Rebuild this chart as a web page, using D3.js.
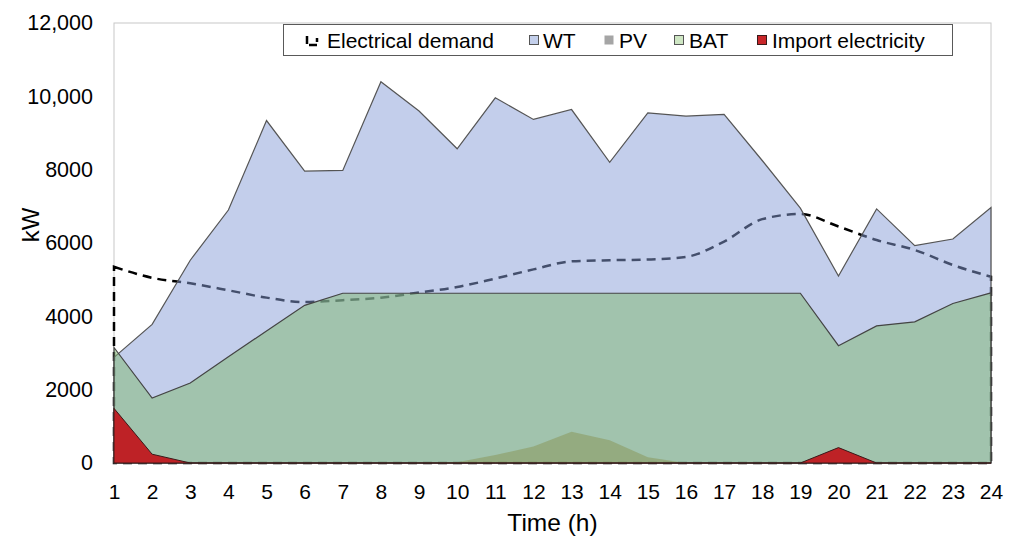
<!DOCTYPE html>
<html>
<head>
<script src="https://cdn.jsdelivr.net/npm/d3@7"></script>
<style>
body { margin: 0; background: #fff; }
text { font-family: 'Liberation Sans', Arial, sans-serif; fill: #000; }
</style>
</head>
<body>
<svg id="chart" width="1016" height="538"></svg>
<script>
const hours = d3.range(1, 25);

// kW values
const demand = [5350, 5050, 4900, 4710, 4510, 4390, 4440, 4510, 4650, 4800, 5030, 5280,
                5500, 5530, 5550, 5620, 6040, 6650, 6790, 6450, 6080, 5810, 5400, 5080];
const wt = [2880, 3780, 5530, 6900, 9340, 7960, 7980, 10400, 9600, 8570, 9960, 9370,
            9640, 8200, 9550, 9460, 9510, 8250, 6950, 5100, 6930, 5930, 6110, 6970];
const bat = [3150, 1770, 2180, 2900, 3600, 4300, 4630, 4630, 4630, 4630, 4630, 4630,
             4630, 4630, 4630, 4630, 4630, 4630, 4630, 3200, 3740, 3850, 4350, 4640];
const pv = [0, 0, 0, 0, 0, 0, 0, 0, 0, 20, 220, 450,
            850, 620, 160, 0, 0, 0, 0, 0, 0, 0, 0, 0];
const imp = [1490, 240, 0, 0, 0, 0, 0, 0, 0, 0, 0, 0,
             0, 0, 0, 0, 0, 0, 0, 420, 0, 0, 0, 0];
const yTicks = [0, 2000, 4000, 6000, 8000, 10000, 12000];

const svg = d3.select('#chart');
const plotL = 114, plotR = 991, plotT = 23, plotB = 463;

const x = d3.scalePoint().domain(hours).range([plotL, plotR]);
const y = d3.scaleLinear().domain([0, 12000]).range([plotB, plotT]);

// plot frame
svg.append('rect')
  .attr('x', plotL).attr('y', plotT)
  .attr('width', plotR - plotL).attr('height', plotB - plotT)
  .attr('fill', 'none').attr('stroke', '#c8c8c8').attr('stroke-width', 1);

function areaPath(values, curve) {
  return d3.area()
    .x((d, i) => x(hours[i]))
    .y0(y(0))
    .y1(d => y(d))
    .curve(curve || d3.curveLinear)(values) + 'Z';
}

// demand first, the half transparent areas go over it
svg.append('path')
  .attr('d', areaPath(demand, d3.curveMonotoneX))
  .attr('fill', 'none')
  .attr('stroke', '#000')
  .attr('stroke-width', 2.5)
  .attr('stroke-dasharray', '9,6');

svg.append('path')
  .attr('d', areaPath(wt))
  .attr('fill', 'rgb(136,158,215)').attr('fill-opacity', 0.5)
  .attr('stroke', '#555').attr('stroke-width', 1.2);

svg.append('path')
  .attr('d', areaPath(bat))
  .attr('fill', 'rgb(128,183,112)').attr('fill-opacity', 0.5)
  .attr('stroke', '#444').attr('stroke-width', 1.2);

svg.append('path')
  .attr('d', areaPath(pv))
  .attr('fill', 'rgb(136,147,83)').attr('fill-opacity', 0.5)
  .attr('stroke', 'none');

svg.append('path')
  .attr('d', areaPath(imp))
  .attr('fill', '#be2226')
  .attr('stroke', '#3a1a1a').attr('stroke-width', 1);

// axes
const yAxis = svg.append('g')
  .attr('transform', `translate(${plotL},0)`)
  .call(d3.axisLeft(y).tickValues(yTicks).tickSize(0).tickPadding(21)
    .tickFormat(d => d >= 10000 ? d3.format(',')(d) : String(d)));
yAxis.select('.domain').remove();
yAxis.selectAll('text').style('font-size', '21.5px').style('font-family', "'Liberation Sans', Arial, sans-serif");

const xAxis = svg.append('g')
  .attr('transform', `translate(0,${plotB})`)
  .call(d3.axisBottom(x).tickSize(0).tickPadding(21));
xAxis.select('.domain').remove();
xAxis.selectAll('text').style('font-size', '21px').style('font-family', "'Liberation Sans', Arial, sans-serif");

svg.append('text')
  .attr('x', (plotL + plotR) / 2).attr('y', 531)
  .attr('text-anchor', 'middle')
  .style('font-size', '24.5px')
  .text('Time (h)');

svg.append('text')
  .attr('transform', 'translate(39,225) rotate(-90)')
  .attr('text-anchor', 'middle')
  .style('font-size', '24px')
  .text('kW');

// legend
const legend = svg.append('g');
legend.append('rect')
  .attr('x', 283.5).attr('y', 24.5).attr('width', 669).attr('height', 31)
  .attr('fill', '#fff').attr('stroke', '#595959').attr('stroke-width', 1);

legend.append('path')
  .attr('d', 'M307,36 L307,45 L317,45 L317,38')
  .attr('fill', 'none').attr('stroke', '#000').attr('stroke-width', 2.5)
  .attr('stroke-dasharray', '8,3');

const items = [
  { label: 'Electrical demand', x: 327 },
  { label: 'WT', x: 543, sw: 529, fill: 'rgb(195,207,235)', stroke: '#555' },
  { label: 'PV', x: 619, sw: 604, fill: '#a5a5a5', stroke: 'none' },
  { label: 'BAT', x: 689, sw: 674, fill: 'rgb(206,230,195)', stroke: '#555' },
  { label: 'Import electricity', x: 772, sw: 757, fill: '#c8262a', stroke: '#3a1a1a' }
];
items.forEach(it => {
  if (it.sw) {
    legend.append('rect')
      .attr('x', it.sw + 0.5).attr('y', 35.5).attr('width', 9).attr('height', 9)
      .attr('fill', it.fill).attr('stroke', it.stroke);
  }
  legend.append('text')
    .attr('x', it.x).attr('y', 47.5)
    .style('font-size', '21px')
    .text(it.label);
});
</script>
</body>
</html>
